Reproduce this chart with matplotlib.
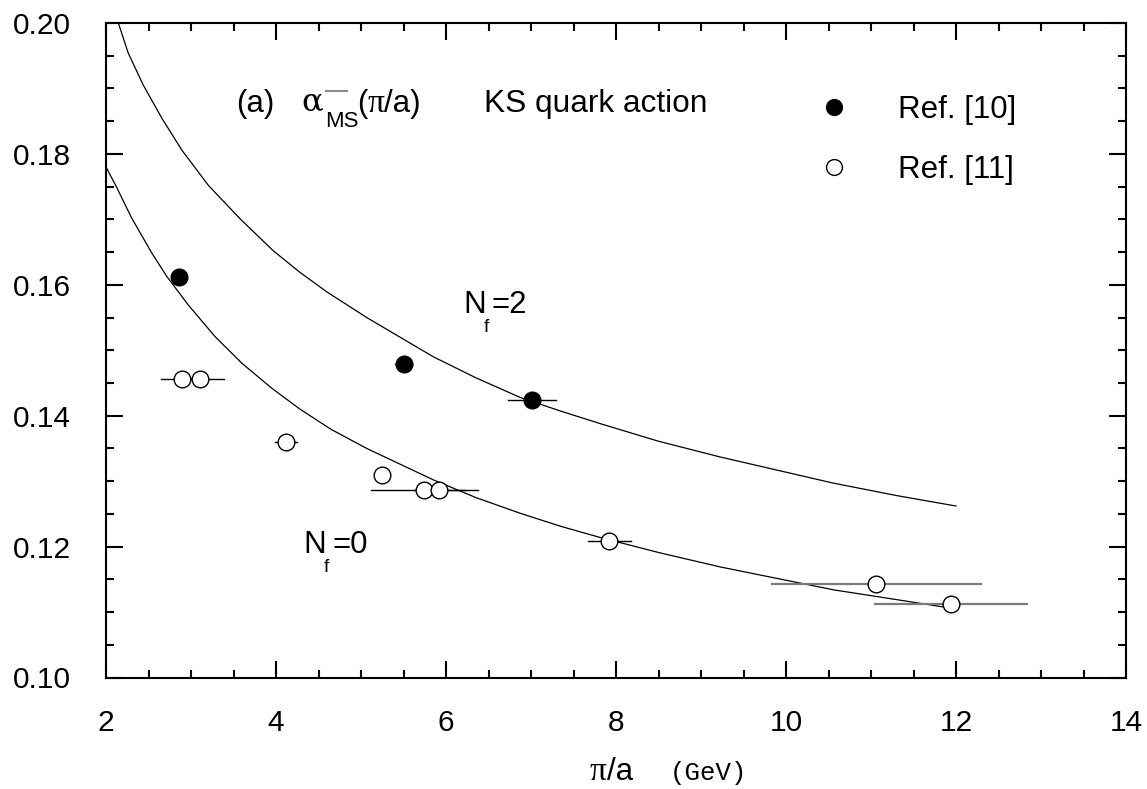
import matplotlib
matplotlib.use("Agg")
import matplotlib.pyplot as plt
from matplotlib.lines import Line2D
from matplotlib.ticker import MultipleLocator, FormatStrFormatter

# ---------------- data ----------------
ref10_x = [2.86, 5.50, 7.01]
ref10_y = [0.1612, 0.1479, 0.1424]
ref10_xerr = [0.05, 0.10, 0.28]

ref11_x = [2.89, 3.11, 4.12, 5.25, 5.745, 5.92, 7.92, 11.06, 11.94]
ref11_y = [0.1456, 0.1456, 0.1360, 0.1309, 0.1287, 0.1287, 0.1208, 0.1143, 0.1112]
ref11_xerr = [0.24, 0.28, 0.13, 0.0, 0.63, 0.30, 0.255, 1.23, 0.89]
ref11_grey = [False, False, False, False, False, False, False, True, True]

nf2_x = [2.145, 2.262, 2.439, 2.655, 2.891, 3.204, 3.576, 3.968, 4.282, 4.6,
         5.067, 5.851, 6.35, 6.871, 7.35, 7.812, 8.5, 9.224, 10.556, 11.3, 12.0]
nf2_y = [0.2000, 0.1954, 0.1905, 0.1855, 0.1806, 0.1752, 0.1701, 0.1652, 0.1619, 0.1589,
         0.1550, 0.1490, 0.1458, 0.1428, 0.1407, 0.1388, 0.1361, 0.1337, 0.1297, 0.1278,
         0.1262]

nf0_x = [2.0, 2.125, 2.302, 2.537, 2.714, 2.969, 3.282, 3.6, 3.95, 4.282, 4.65, 5.067,
         5.851, 6.35, 6.871, 7.35, 7.812, 8.5, 9.224, 10.556, 11.3, 11.94, 12.0]
nf0_y = [0.1780, 0.1749, 0.1702, 0.1649, 0.1613, 0.1569, 0.1521, 0.1480, 0.1442, 0.1410,
         0.1379, 0.1350, 0.1302, 0.1275, 0.1251, 0.1231, 0.1214, 0.1191, 0.1169, 0.1134,
         0.1119, 0.1106, 0.1105]

legend_labels = ["Ref. [10]", "Ref. [11]"]

# ---------------- figure ----------------
W, H = 1147, 789
fig = plt.figure(figsize=(W / 100, H / 100), dpi=100)
ax = fig.add_axes([106 / W, 1 - 677.5 / H, 1020 / W, 654.5 / H])

SANS = "Liberation Sans"
ALPHA = "DejaVu Serif"
PI = "Liberation Serif"
FS = 22.5

ax.plot(nf2_x, nf2_y, color="black", lw=0.9, zorder=2)
ax.plot(nf0_x, nf0_y, color="black", lw=0.9, zorder=2)

# error bars
for x, y, e in zip(ref10_x, ref10_y, ref10_xerr):
    if e > 0:
        ax.plot([x - e, x + e], [y, y], color="black", lw=1.0, zorder=3)
for x, y, e, g in zip(ref11_x, ref11_y, ref11_xerr, ref11_grey):
    if e > 0:
        ax.plot([x - e, x + e], [y, y], color="#7a7a7a" if g else "black",
                lw=1.6 if g else 1.0, zorder=3)

h10, = ax.plot(ref10_x, ref10_y, linestyle="none", marker="o", ms=12,
               mfc="black", mec="black", mew=1.0, zorder=5)
h11, = ax.plot(ref11_x, ref11_y, linestyle="none", marker="o", ms=12,
               mfc="white", mec="black", mew=1.0, zorder=5)

ax.set_xlim(2, 14)
ax.set_ylim(0.10, 0.20)
ax.xaxis.set_major_locator(MultipleLocator(2))
ax.xaxis.set_minor_locator(MultipleLocator(0.5))
ax.yaxis.set_major_locator(MultipleLocator(0.02))
ax.yaxis.set_minor_locator(MultipleLocator(0.005))
ax.yaxis.set_major_formatter(FormatStrFormatter("%.2f"))
ax.tick_params(which="both", direction="in", top=True, right=True, width=1.5)
ax.tick_params(which="major", length=12)
ax.tick_params(which="minor", length=6)
ax.tick_params(axis="x", which="major", pad=23)
ax.tick_params(axis="y", which="major", pad=25.5)
for lab in ax.get_xticklabels() + ax.get_yticklabels():
    lab.set_fontfamily(SANS)
    lab.set_fontsize(21.5)
for s in ax.spines.values():
    s.set_linewidth(1.5)

leg = ax.legend([h10, h11], legend_labels, loc="upper left",
                bbox_to_anchor=(0.671, 0.9325), frameon=False,
                prop={"family": SANS, "size": FS}, handlelength=1.0,
                handletextpad=1.53, labelspacing=0.95, markerscale=0.95)


# ---------------- annotations ----------------
def fpos(px, py):
    return px / W, 1 - py / H


def put(s, px, py, size, family=SANS, **kw):
    x, y = fpos(px, py)
    return fig.text(x, y, s, fontsize=size, family=family, ha="left",
                    va="baseline", **kw)


fig.canvas.draw()
renderer = fig.canvas.get_renderer()


def chain(pieces, px, py):
    x = px
    for s, size, fam in pieces:
        t = put(s, x, py, size, fam)
        bb = t.get_window_extent(renderer)
        x += bb.width


put("(a)", 236.5, 112, FS)
put("\u03b1", 301, 110, 23, ALPHA)
fig.add_artist(Line2D([326 / W, 347 / W], [1 - 91 / H, 1 - 91 / H],
                      color="#8a8a8a", lw=1.5))
put("MS", 325, 127, 16)
chain([("(", FS, SANS), ("\u03c0", 24, PI), ("/a)", FS, SANS)], 357, 112)
put("KS quark action", 484, 112, 22.8)

put("N", 463, 313, FS)
put("f", 483.5, 332, 14)
put("=2", 491.5, 313, FS)

put("N", 303, 553, FS)
put("f", 324, 572, 14)
put("=0", 332.5, 553, FS)

chain([("\u03c0", 24, PI), ("/a", FS, SANS)], 590, 780)
put("(GeV)", 670, 780, 18.5, "Liberation Mono")

fig.savefig("out.png", dpi=100)
